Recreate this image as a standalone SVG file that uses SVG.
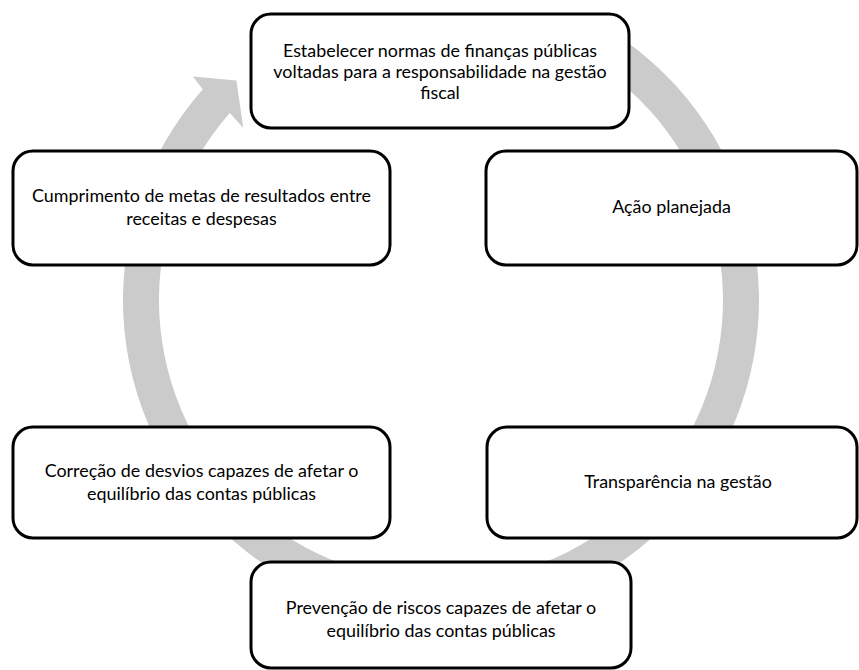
<svg xmlns="http://www.w3.org/2000/svg" width="859" height="670" viewBox="0 0 859 670">
<style>
.box{fill:#ffffff;stroke:#000000;stroke-width:3}
.lbl{font-family:Lato,"Liberation Sans",sans-serif;font-size:17.9px;fill:#000000;text-anchor:middle}
.ring{fill:#cbcbcb;stroke:none}
</style>
<rect x="0" y="0" width="859" height="670" fill="#ffffff"/>
<g id="connectors">
<path class="ring" d="M 600 24.6 A 318 318 0 1 1 202.8 89.3 L 192.8 76.5 L 236.4 80.6 L 243.3 128.1 L 229.8 113.1 A 282 282 0 1 0 582 55.8 Z"/>
</g>
<g id="node1">
<rect class="box" x="251" y="14" width="378" height="114" rx="20"/>
<text class="lbl" x="440" y="57">Estabelecer normas de finanças públicas</text>
<text class="lbl" x="440" y="78">voltadas para a responsabilidade na gestão</text>
<text class="lbl" x="440" y="99">fiscal</text>
</g>
<g id="node2">
<rect class="box" x="486" y="151" width="371" height="114" rx="20"/>
<text class="lbl" x="671.5" y="213">Ação planejada</text>
</g>
<g id="node3">
<rect class="box" x="487" y="427" width="370" height="111" rx="20"/>
<text class="lbl" x="678" y="488">Transparência na gestão</text>
</g>
<g id="node4">
<rect class="box" x="251" y="562" width="380" height="106" rx="20"/>
<text class="lbl" x="441" y="614">Prevenção de riscos capazes de afetar o</text>
<text class="lbl" x="441" y="637">equilíbrio das contas públicas</text>
</g>
<g id="node5">
<rect class="box" x="13" y="427" width="377" height="111" rx="20"/>
<text class="lbl" x="201.5" y="477">Correção de desvios capazes de afetar o</text>
<text class="lbl" x="201.5" y="500">equilíbrio das contas públicas</text>
</g>
<g id="node6">
<rect class="box" x="13" y="151" width="377" height="114" rx="20"/>
<text class="lbl" x="201.5" y="202">Cumprimento de metas de resultados entre</text>
<text class="lbl" x="201.5" y="225">receitas e despesas</text>
</g>
</svg>
